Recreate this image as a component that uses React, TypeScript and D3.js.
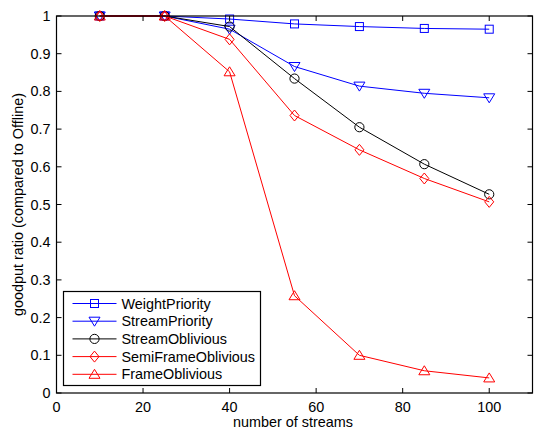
import React, { useEffect, useRef } from 'react';
import * as d3 from 'd3';

const streams = [10, 25, 40, 55, 70, 85, 100];
const weightPriority = [1, 1, 0.992, 0.979, 0.972, 0.967, 0.965];
const streamPriority = [1, 1, 0.965, 0.866, 0.814, 0.795, 0.783];
const streamOblivious = [1, 1, 0.972, 0.834, 0.705, 0.607, 0.527];
const semiFrameOblivious = [1, 1, 0.938, 0.736, 0.645, 0.569, 0.507];
const frameOblivious = [1, 1, 0.852, 0.258, 0.1, 0.059, 0.04];

const seriesNames = ['WeightPriority', 'StreamPriority', 'StreamOblivious', 'SemiFrameOblivious', 'FrameOblivious'];
const seriesColors = ['#0000ff', '#0000ff', '#000000', '#ff0000', '#ff0000'];
const seriesMarkers = ['square', 'tridown', 'circle', 'diamond', 'triup'];

const xTicks = [0, 20, 40, 60, 80, 100];
const yTicks = [0, 0.1, 0.2, 0.3, 0.4, 0.5, 0.6, 0.7, 0.8, 0.9, 1];

const FONT = 'Liberation Sans, Arial, sans-serif';
const FS = 14.4;

function marker(g: any, kind: string, cx: number, cy: number, color: string) {
  if (kind === 'square') {
    g.append('rect').attr('x', cx - 4).attr('y', cy - 4).attr('width', 8).attr('height', 8)
      .attr('fill', 'none').attr('stroke', color);
  } else if (kind === 'circle') {
    g.append('circle').attr('cx', cx).attr('cy', cy).attr('r', 4.6).attr('fill', 'none').attr('stroke', color);
  } else if (kind === 'diamond') {
    g.append('path').attr('d', `M${cx},${cy - 5.5}L${cx + 4.5},${cy}L${cx},${cy + 5.5}L${cx - 4.5},${cy}Z`)
      .attr('fill', 'none').attr('stroke', color);
  } else if (kind === 'tridown') {
    g.append('path').attr('d', `M${cx - 5.5},${cy - 4}L${cx + 5.5},${cy - 4}L${cx},${cy + 5}Z`)
      .attr('fill', 'none').attr('stroke', color);
  } else {
    g.append('path').attr('d', `M${cx - 5.5},${cy + 4}L${cx + 5.5},${cy + 4}L${cx},${cy - 5}Z`)
      .attr('fill', 'none').attr('stroke', color);
  }
}

export default function App() {
  const ref = useRef<SVGSVGElement>(null);

  useEffect(() => {
    if (!ref.current) return;
    const svg = d3.select(ref.current);
    svg.selectAll('*').remove();

    const left = 56.5, right = 532.5, top = 16, bottom = 393;
    const x = d3.scaleLinear().domain([0, 110]).range([left, right]);
    const y = d3.scaleLinear().domain([0, 1]).range([bottom, top]);

    svg.append('rect').attr('width', 534).attr('height', 430).attr('fill', '#fff');

    const allSeries = [weightPriority, streamPriority, streamOblivious, semiFrameOblivious, frameOblivious];

    const line = d3.line<number>().x((d, i) => x(streams[i])).y((d) => y(d));

    allSeries.forEach((vals, s) => {
      const g = svg.append('g');
      g.append('path').attr('d', line(vals)).attr('fill', 'none').attr('stroke', seriesColors[s]).attr('stroke-width', 1);
      vals.forEach((v, i) => marker(g, seriesMarkers[s], x(streams[i]), y(v), seriesColors[s]));
    });

    // axes box
    svg.append('rect').attr('x', left).attr('y', top).attr('width', right - left).attr('height', bottom - top)
      .attr('fill', 'none').attr('stroke', '#000').attr('stroke-width', 1.2);

    const tl = 5;
    xTicks.forEach((t) => {
      const px = x(t);
      svg.append('line').attr('x1', px).attr('x2', px).attr('y1', bottom).attr('y2', bottom - tl).attr('stroke', '#000');
      svg.append('line').attr('x1', px).attr('x2', px).attr('y1', top).attr('y2', top + tl).attr('stroke', '#000');
      svg.append('text').attr('x', px).attr('y', 411.5).attr('text-anchor', 'middle')
        .attr('font-family', FONT).attr('font-size', FS).text(t);
    });
    yTicks.forEach((t) => {
      const py = y(t);
      svg.append('line').attr('x1', left).attr('x2', left + tl).attr('y1', py).attr('y2', py).attr('stroke', '#000');
      svg.append('line').attr('x1', right).attr('x2', right - tl).attr('y1', py).attr('y2', py).attr('stroke', '#000');
      svg.append('text').attr('x', left - 6).attr('y', py + 5).attr('text-anchor', 'end')
        .attr('font-family', FONT).attr('font-size', FS).text(d3.format('~g')(t));
    });

    svg.append('text').attr('x', 293).attr('y', 426.5).attr('text-anchor', 'middle')
      .attr('font-family', FONT).attr('font-size', FS).text('number of streams');
    svg.append('text').attr('transform', `translate(23,${(top + bottom) / 2}) rotate(-90)`).attr('text-anchor', 'middle')
      .attr('font-family', FONT).attr('font-size', FS).text('goodput ratio (compared to Offline)');

    // legend
    const lx = 63.5, ly = 291.5, lw = 197, lh = 94;
    svg.append('rect').attr('x', lx).attr('y', ly).attr('width', lw).attr('height', lh)
      .attr('fill', '#fff').attr('stroke', '#000').attr('stroke-width', 1.2);
    seriesNames.forEach((name, s) => {
      const ry = 303.5 + s * 17.7;
      const g = svg.append('g');
      g.append('line').attr('x1', 72.5).attr('x2', 116.5).attr('y1', ry).attr('y2', ry).attr('stroke', seriesColors[s]);
      marker(g, seriesMarkers[s], 94.5, ry, seriesColors[s]);
      g.append('text').attr('x', 121.5).attr('y', ry + 5).attr('font-family', FONT).attr('font-size', FS)
        .text(name);
    });
  }, []);

  return (
    <svg ref={ref} width={534} height={430} style={{ position: 'absolute', left: 0, top: 0 }} />
  );
}
